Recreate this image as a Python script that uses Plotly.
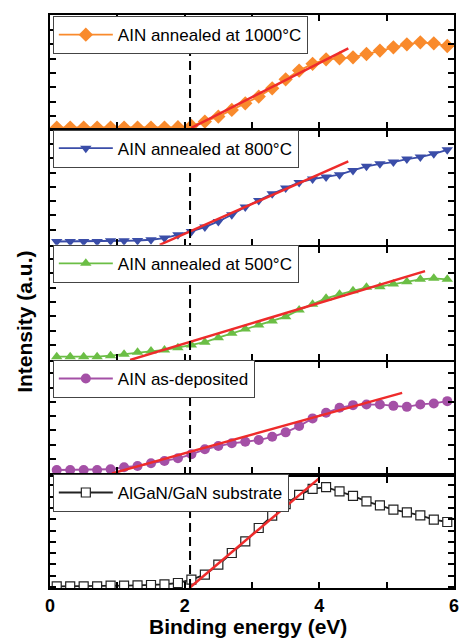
import plotly.graph_objects as go

# Binding energy (eV)
x_energy = [round(0.1 + 0.2 * i, 2) for i in range(30)]

# Intensities (a.u., arbitrary offsets per panel)
y_1000 = [0.02, 0.02, 0.02, 0.02, 0.02, 0.02, 0.02, 0.02, 0.02, 0.05,
          0.14, 0.44, 0.79, 1.26, 1.72, 2.19, 2.77, 3.40, 4.01, 4.48,
          4.80, 4.87, 4.94, 5.17, 5.41, 5.64, 5.85, 5.99, 5.92, 5.73]
y_800 = [0.23, 0.23, 0.23, 0.23, 0.28, 0.28, 0.30, 0.35, 0.47, 0.70,
         0.93, 1.24, 1.63, 2.10, 2.64, 3.10, 3.57, 3.96, 4.36, 4.59,
         4.73, 4.90, 5.20, 5.48, 5.66, 5.78, 5.99, 6.13, 6.36, 6.64]
y_500 = [0.23, 0.23, 0.23, 0.23, 0.30, 0.40, 0.54, 0.63, 0.70, 0.86,
         1.05, 1.24, 1.56, 1.86, 2.17, 2.45, 2.73, 3.03, 3.50, 3.90,
         4.31, 4.59, 4.85, 5.08, 5.13, 5.31, 5.48, 5.64, 5.71, 5.64]
y_asdep = [0.24, 0.24, 0.24, 0.24, 0.29, 0.43, 0.52, 0.71, 0.87, 1.06,
           1.34, 1.69, 1.92, 2.11, 2.22, 2.34, 2.57, 2.88, 3.32, 3.86,
           4.25, 4.60, 4.79, 4.84, 4.84, 4.74, 4.67, 4.84, 4.91, 5.07]
y_sub = [0.12, 0.12, 0.12, 0.12, 0.16, 0.16, 0.18, 0.21, 0.25, 0.35,
         0.58, 0.93, 1.63, 2.45, 3.26, 4.20, 5.06, 5.87, 6.52, 6.94,
         7.06, 6.76, 6.45, 6.06, 5.78, 5.48, 5.29, 5.08, 4.78, 4.62]

# Linear fits (start/end points)
fit_1000_x = [2.10, 4.43]
fit_1000_y = [0.0, 5.57]
fit_800_x = [1.63, 4.43]
fit_800_y = [0.0, 5.83]
fit_500_x = [1.19, 5.57]
fit_500_y = [0.0, 6.22]
fit_asdep_x = [0.92, 5.23]
fit_asdep_y = [0.0, 5.65]
fit_sub_x = [2.07, 4.00]
fit_sub_y = [0.0, 7.69]

onset_energy = 2.08

names = ["AIN annealed at 1000°C", "AIN annealed at 800°C", "AIN annealed at 500°C",
         "AIN as-deposited", "AlGaN/GaN substrate"]
colors = ["#F98A2C", "#3A4DA8", "#6BBE45", "#A450A6", "#222222"]
symbols = ["diamond", "triangle-down", "triangle-up", "circle", "square"]
msizes = [11, 10, 10, 10, 9]
series = [y_1000, y_800, y_500, y_asdep, y_sub]
fits = [(fit_1000_x, fit_1000_y), (fit_800_x, fit_800_y), (fit_500_x, fit_500_y),
        (fit_asdep_x, fit_asdep_y), (fit_sub_x, fit_sub_y)]

x_ticks = [0, 1, 2, 3, 4, 5, 6]
x_ticktext = ["<b>0</b>", "", "<b>2</b>", "", "<b>4</b>", "", "<b>6</b>"]

# panel layout (top to bottom)
domains = [[0.803, 1.0], [0.599, 0.798], [0.398, 0.595], [0.200, 0.394], [0.0, 0.194]]
yranges = [[0, 7.9], [0, 7.97], [0, 7.9], [0, 7.8], [0, 7.78]]
ytick0 = [0.84, 1.05, 1.05, 1.01, 0.86]
ydtick = [1, 1, 1, 1, 0.79]
legend_y = [0.998, 0.8, 0.599, 0.398, 0.199]

fig = go.Figure()
for i in range(5):
    ax = "" if i == 0 else str(i + 1)
    leg = "legend" if i == 0 else "legend" + str(i + 1)
    mk = dict(symbol=symbols[i], size=msizes[i], color=colors[i], line=dict(width=0))
    if i == 4:
        mk = dict(symbol="square", size=msizes[i], color="white", line=dict(color="#222222", width=1.2))
    fig.add_trace(go.Scatter(
        x=x_energy, y=series[i], mode="lines+markers", name=names[i],
        line=dict(color=colors[i], width=1.8), marker=mk,
        xaxis="x" + ax, yaxis="y" + ax, legend=leg, showlegend=True))
    fig.add_trace(go.Scatter(
        x=fits[i][0], y=fits[i][1], mode="lines", showlegend=False,
        line=dict(color="#EE2B2B", width=2.5), xaxis="x" + ax, yaxis="y" + ax))

axis_common = dict(showline=True, linecolor="black", linewidth=2, mirror="allticks",
                   ticks="inside", tickcolor="black", tickwidth=1.5, ticklen=6,
                   showgrid=False, zeroline=False)
layout = dict(width=464, height=638, margin=dict(l=50, r=5, t=15, b=50),
              plot_bgcolor="white", paper_bgcolor="white",
              font=dict(family="Liberation Sans, Arial", color="black"))
for i in range(5):
    ax = "" if i == 0 else str(i + 1)
    layout["xaxis" + ax] = dict(axis_common, range=[0, 6], tickvals=x_ticks, ticktext=x_ticktext,
                                showticklabels=(i == 4), anchor="y" + ax,
                                tickfont=dict(size=18, family="Liberation Sans, Arial"))
    if i > 0:
        layout["xaxis" + ax]["matches"] = "x"
    layout["yaxis" + ax] = dict(axis_common, range=yranges[i], domain=domains[i],
                                tick0=ytick0[i], dtick=ydtick[i], showticklabels=False,
                                anchor="x" + ax)
    leg = "legend" if i == 0 else "legend" + str(i + 1)
    layout[leg] = dict(x=0.007, y=legend_y[i], xanchor="left", yanchor="top",
                       bgcolor="white", bordercolor="#444444", borderwidth=1,
                       font=dict(size=17, family="Liberation Sans, Arial", color="black"),
                       itemwidth=54, tracegroupgap=0)
fig.update_layout(**layout)

fig.add_shape(type="line", xref="x5", yref="paper", x0=onset_energy, x1=onset_energy,
              y0=0, y1=1, line=dict(color="black", width=2, dash="9px,5px"))

fig.add_annotation(text="<b>Intensity (a.u.)</b>", xref="paper", yref="paper",
                   x=-0.065, y=0.464, xanchor="center", yanchor="middle",
                   textangle=-90, showarrow=False,
                   font=dict(size=21, family="Liberation Sans, Arial"))
fig.add_annotation(text="<b>Binding energy (eV)</b>", xref="paper", yref="paper",
                   x=0.49, y=-0.068, xanchor="center", yanchor="middle", showarrow=False,
                   font=dict(size=21, family="Liberation Sans, Arial"))

fig.write_html("out.html")
